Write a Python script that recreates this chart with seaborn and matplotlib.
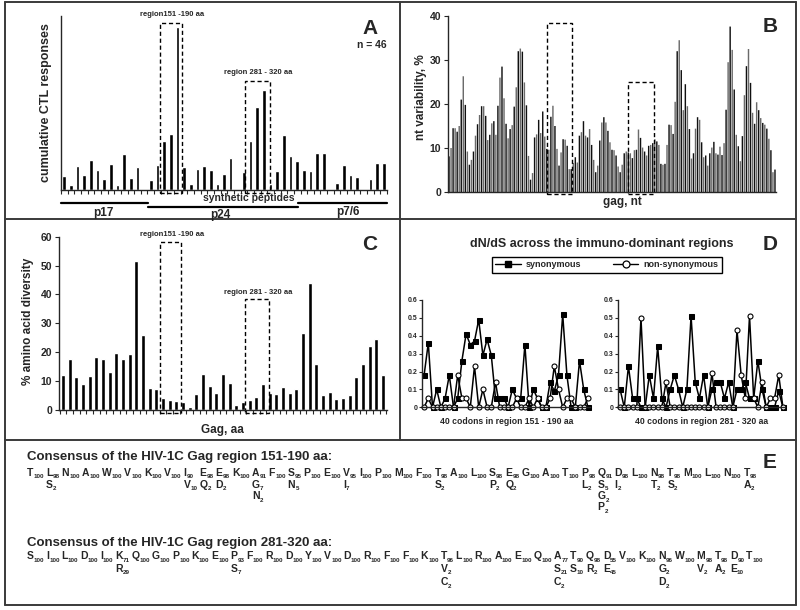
import numpy as np
import seaborn as sns
import matplotlib.pyplot as plt
from matplotlib.patches import Rectangle
from matplotlib.lines import Line2D

W, H = 800, 610

# A: cumulative CTL responses per synthetic peptide (49 peptides)
ctl_responses = [4.2, 1.5, 7.2, 4.4, 9.0, 6.0, 3.2, 7.7, 1.5, 10.7, 3.7, 7.0, 0, 3.0, 7.4,
                 14.8, 16.8, 49.0, 7.0, 1.9, 6.3, 7.3, 6.1, 1.7, 4.8, 9.6, 0, 5.4, 14.7,
                 25.0, 30.2, 1.7, 5.6, 16.4, 10.1, 8.7, 6.0, 5.6, 11.0, 11.2, 0, 2.2, 7.6,
                 4.5, 4.0, 0, 3.3, 8.0, 8.0]

# B: nt variability, %
nt_variability = [8.1, 10, 14.5, 14.5, 13.7, 15, 21, 26.3, 19.8, 9.2, 6.2, 7.3, 9.2, 12.8,
                  15.4, 17.5, 19.5, 19.5, 17.3, 11.8, 13, 15.6, 16.1, 13, 19.6, 26, 28.5,
                  21.3, 15.5, 12.2, 14.3, 15.2, 19.4, 23.8, 32, 32.6, 31.9, 24.9, 19.7, 8.2,
                  2.8, 4.3, 12.4, 13.1, 16.4, 13.4, 18.3, 12.6, 9.8, 9.6, 17.1, 19.6, 15,
                  9.8, 6, 9, 12, 11.9, 10.5, 5.2, 5.2, 6.6, 7.9, 6.7, 12.8, 13.6, 16.1, 12.8,
                  12.4, 14.3, 10.7, 7.3, 4.5, 6,
                  11.7, 15.8, 17, 15.8, 13.9, 11.3, 9.6, 9.5, 8.3, 5.8,
                  4.5, 6.2, 8.8, 9.2, 9, 8.8, 7.7, 9.5, 9.6, 14.2,
                  12.3, 10.1, 9.2, 8.3, 10.5, 10.7, 11.1, 12, 11.5, 10.7,
                  6.4, 6.2, 6.4, 10.7, 15.3, 15.2, 13.2, 20.5, 32, 34.5,
                  27.7, 18.6, 24.5, 19.5, 14.3, 7.6, 8.8, 14.4, 17, 16.4,
                  11.3, 7.9, 8.3, 6, 8.8, 10.1, 11.4, 8.8, 8.5, 10.3,
                  8.4, 11.1, 18.7, 29.5, 37.6, 32.3, 23.3, 13, 10.4, 7,
                  12.7, 22, 28.6, 32.5, 24.8, 18, 15.5, 20.4, 18.6, 16.8,
                  15.7, 15.3, 14.4, 12.1, 9.5, 4.5, 5.1]

# C: % amino acid diversity
aa_diversity = [12, 17.5, 11.5, 9, 11.8, 18.5, 17.8, 13.2, 19.7, 17.5, 19.4, 51.6, 25.8,
                7.5, 7.2, 4.3, 3.4, 3.2, 2.6, 1.2, 5.6, 12.6, 8.4, 5.9, 12.4, 9.4, 1.8,
                2.7, 3.5, 4.5, 8.9, 5.9, 5.4, 8.0, 5.9, 7.2, 26.7, 43.9, 16, 5.1, 6.4,
                3.7, 4.3, 5.1, 11.3, 16, 22.2, 24.6, 12.2]

# D: dN/dS per codon
codons = list(range(1, 41))
syn_151_190 = [0.18, 0.36, 0, 0.1, 0, 0.05, 0.18, 0, 0.05, 0.26, 0.41, 0.35, 0.37, 0.49,
               0.29, 0.38, 0.29, 0.05, 0.05, 0.05, 0, 0.1, 0.05, 0.05, 0.35, 0, 0.1, 0.05,
               0, 0, 0.14, 0.09, 0.18, 0.52, 0.18, 0, 0, 0.26, 0.1, 0]
nonsyn_151_190 = [0, 0.05, 0, 0, 0, 0, 0, 0, 0.18, 0.05, 0.05, 0, 0.23, 0, 0.1, 0, 0,
                  0.14, 0, 0, 0, 0, 0.05, 0, 0, 0.05, 0, 0.05, 0, 0, 0.05, 0.23, 0.1, 0,
                  0.05, 0.05, 0, 0, 0, 0.05]
syn_281_320 = [0.1, 0, 0.23, 0.05, 0.05, 0, 0, 0.18, 0.05, 0.34, 0.05, 0, 0.1, 0.18, 0.1,
               0, 0.1, 0.51, 0.14, 0.05, 0.18, 0, 0.1, 0.14, 0.14, 0.05, 0.14, 0, 0.1,
               0.1, 0.14, 0.05, 0.05, 0.26, 0.1, 0, 0, 0, 0.09, 0]
nonsyn_281_320 = [0, 0, 0, 0, 0, 0.5, 0, 0, 0, 0, 0, 0.14, 0, 0, 0, 0, 0, 0, 0, 0, 0, 0,
                  0.19, 0, 0, 0, 0, 0, 0.43, 0.18, 0.05, 0.51, 0.05, 0, 0.14, 0, 0.05,
                  0.05, 0.18, 0]

# E: consensus sequences with frequencies and variants
cons_151_190 = "TLNAWVKVIEEKAFSPEVIPMFTALSEGATPQDLNTMLNT"
pct_151_190 = [100, 98, 100, 100, 100, 100, 100, 100, 90, 98, 98, 100, 91, 100, 95, 100,
               100, 95, 100, 100, 100, 100, 98, 100, 100, 98, 98, 100, 100, 100, 98, 91,
               98, 100, 98, 98, 100, 100, 100, 98]
var_151_190 = {1: [("S", 2)], 8: [("V", 10)], 9: [("Q", 2)], 10: [("D", 2)],
               12: [("G", 7), ("N", 2)], 14: [("N", 5)], 17: [("I", 7)], 22: [("S", 2)],
               25: [("P", 2)], 26: [("Q", 2)], 30: [("L", 2)],
               31: [("S", 5), ("G", 2), ("P", 2)], 32: [("I", 2)], 34: [("T", 2)],
               35: [("S", 2)], 39: [("A", 2)]}

cons_281_320 = "SILDIKQGPKEPFRDYVDRFFKTLRAEQATQDVKNWMTDT"
pct_281_320 = [100, 100, 100, 100, 100, 71, 100, 100, 100, 100, 100, 93, 100, 100, 100,
               100, 100, 100, 100, 100, 100, 100, 96, 100, 100, 100, 100, 100, 77, 90, 98,
               55, 100, 100, 96, 100, 98, 98, 90, 100]
var_281_320 = {5: [("R", 29)], 11: [("S", 7)], 22: [("V", 2), ("C", 2)],
               28: [("S", 21), ("C", 2)], 29: [("S", 10)], 30: [("R", 2)], 31: [("E", 45)],
               34: [("G", 2), ("D", 2)], 36: [("V", 2)], 37: [("A", 2)], 38: [("E", 10)]}

sns.set_style("ticks")
plt.rcParams["font.family"] = ["Liberation Sans", "DejaVu Sans"]
plt.rcParams["font.weight"] = "bold"
plt.rcParams["axes.linewidth"] = 1.0
plt.rcParams["xtick.major.width"] = 0.8
plt.rcParams["ytick.major.width"] = 0.8

fig = plt.figure(figsize=(8, 6.1), dpi=100)


def px_axes(l, t, r, b):
    return fig.add_axes([l / W, 1 - b / H, (r - l) / W, (b - t) / H])


def ftext(x, y, s, **kw):
    return fig.text(x / W, 1 - y / H, s, **kw)


def fline(x0, y0, x1, y1, **kw):
    fig.add_artist(Line2D([x0 / W, x1 / W], [1 - y0 / H, 1 - y1 / H],
                          transform=fig.transFigure, **kw))


def dashed_box(ax, x0, x1, y0, y1):
    ax.add_patch(Rectangle((x0, y0), x1 - x0, y1 - y0, fill=False, ls=(0, (3, 2)),
                           lw=1.0, ec="black", clip_on=False))


# panel borders
for seg in [(5, 1.5, 796, 1.5), (5, 605, 796, 605), (5, 1.5, 5, 605), (796, 1.5, 796, 605),
            (400, 1.5, 400, 440), (5, 219, 796, 219), (5, 440, 796, 440)]:
    fline(*seg, color="#3a3a3a", lw=1.4)

# ---- A
axA = px_axes(61, 16, 387, 190)
sns.barplot(x=np.arange(len(ctl_responses)), y=ctl_responses, color="black",
            saturation=1, width=0.55, ax=axA)
axA.set_xlim(-0.5, len(ctl_responses) - 0.5)
axA.set_ylim(0, 52.3)
axA.set_xticks(np.arange(-0.5, len(ctl_responses), 1))
axA.set_xticklabels([])
axA.set_yticks([])
axA.tick_params(axis="x", length=3)
axA.set_xlabel("")
axA.set_ylabel("")
sns.despine(ax=axA)
dashed_box(axA, 14.4, 17.7, -1, 50.2)
dashed_box(axA, 27.2, 30.9, -1, 32.8)
ftext(172, 15, "region151 -190 aa", fontsize=5.5, ha="center", va="center")
ftext(258, 73, "region 281 - 320 aa", fontsize=5.5, ha="center", va="center")
ftext(46, 103, "cumulative CTL responses", fontsize=9, rotation=90, ha="center", va="center")
ftext(249, 198, "synthetic peptides", fontsize=7.5, ha="center", va="center")
fline(61, 203, 148, 203, color="black", lw=1.6)
fline(148, 207, 298, 207, color="black", lw=1.6)
fline(298, 203, 387, 203, color="black", lw=1.6)
ftext(103, 213, "p17", fontsize=8.5, ha="center", va="center")
ftext(220, 215, "p24", fontsize=8.5, ha="center", va="center")
ftext(348, 212, "p7/6", fontsize=8.5, ha="center", va="center")
ftext(370, 28, "A", fontsize=15, ha="center", va="center", fontweight="heavy")
ftext(372, 45, "n = 46", fontsize=7.5, ha="center", va="center")

# ---- B
axB = px_axes(448, 16, 776, 192)
idx = np.arange(len(nt_variability))
sns.barplot(x=idx, y=nt_variability, color="black", saturation=1, width=0.7, ax=axB)
for i, bar in enumerate(axB.patches):
    bar.set_facecolor("#101010" if i % 2 == 0 else "#6a6a6a")
    bar.set_linewidth(0)
    bar.set_snap(False)
axB.set_xlim(-0.5, len(nt_variability) - 0.5)
axB.set_ylim(0, 40)
axB.set_xticks([])
axB.set_yticks([0, 10, 20, 30, 40])
axB.tick_params(axis="y", length=3, labelsize=7.5, pad=2)
axB.set_xlabel("")
axB.set_ylabel("")
sns.despine(ax=axB)
dashed_box(axB, 47.9, 60.2, -0.5, 38.3)
dashed_box(axB, 87.9, 100.7, -0.5, 25.1)
ftext(421, 97, "nt variability, %", fontsize=8.5, rotation=90, ha="center", va="center")
ftext(622, 202, "gag, nt", fontsize=8.5, ha="center", va="center")
ftext(770, 27, "B", fontsize=15, ha="center", va="center", fontweight="heavy")

# ---- C
axC = px_axes(59, 236.7, 387, 410)
sns.barplot(x=np.arange(len(aa_diversity)), y=aa_diversity, color="black",
            saturation=1, width=0.6, ax=axC)
axC.set_xlim(-0.6, len(aa_diversity) - 0.4)
axC.set_ylim(0, 60)
axC.set_xticks(np.arange(-0.5, len(aa_diversity), 1))
axC.set_xticklabels([])
axC.set_yticks([0, 10, 20, 30, 40, 50, 60])
axC.tick_params(axis="x", length=3)
axC.tick_params(axis="y", length=3, labelsize=7.5, pad=2)
axC.set_xlabel("")
axC.set_ylabel("")
sns.despine(ax=axC)
dashed_box(axC, 14.5, 17.75, -1.2, 58)
dashed_box(axC, 27.25, 30.9, -1.2, 38.3)
ftext(172, 235, "region151 -190 aa", fontsize=5.5, ha="center", va="center")
ftext(258, 293, "region 281 - 320 aa", fontsize=5.5, ha="center", va="center")
ftext(28, 321, "% amino acid diversity", fontsize=8.5, rotation=90, ha="center", va="center")
ftext(222, 430, "Gag, aa", fontsize=8.5, ha="center", va="center")
ftext(370, 245, "C", fontsize=15, ha="center", va="center", fontweight="heavy")

# ---- D
for (l, r), syn, nonsyn, lab, xc in [((422, 590), syn_151_190, nonsyn_151_190,
                                       "40 codons in region 151 - 190 aa", 507),
                                      ((618, 785), syn_281_320, nonsyn_281_320,
                                       "40 codons in region 281 - 320 aa", 702)]:
    ax = px_axes(l, 300, r, 407.3)
    sns.lineplot(x=codons, y=syn, color="black", lw=1.1, marker="s", markersize=3.6,
                 markeredgecolor="black", clip_on=False, ax=ax)
    sns.lineplot(x=codons, y=nonsyn, color="black", lw=1.1, marker="o", markersize=3.6,
                 markerfacecolor="white", markeredgecolor="black", markeredgewidth=0.8,
                 clip_on=False, ax=ax)
    ax.set_xlim(0.5, 40.5)
    ax.set_ylim(0, 0.6)
    ax.set_xticks([])
    ax.set_yticks([0, 0.1, 0.2, 0.3, 0.4, 0.5, 0.6])
    ax.set_yticklabels(["0", "0.1", "0.2", "0.3", "0.4", "0.5", "0.6"])
    ax.tick_params(axis="y", length=2, labelsize=5, pad=1.5)
    ax.set_xlabel("")
    ax.set_ylabel("")
    sns.despine(ax=ax)
    ftext(xc, 422, lab, fontsize=6.2, ha="center", va="center")

ftext(602, 244, "dN/dS across the immuno-dominant regions", fontsize=9, ha="center", va="center")
ftext(770, 245, "D", fontsize=15, ha="center", va="center", fontweight="heavy")
handles = [Line2D([], [], color="black", lw=1.0, marker="s", markersize=5),
           Line2D([], [], color="black", lw=1.0, marker="o", markersize=5,
                  markerfacecolor="white", markeredgewidth=0.9)]
fig.legend(handles, ["synonymous", "non-synonymous"], loc="center",
           bbox_to_anchor=(607 / W, 1 - 265 / H), ncol=2, fontsize=6.5, frameon=True,
           fancybox=False, edgecolor="black", framealpha=1, handlelength=2.8,
           columnspacing=3.5, borderpad=0.35, handletextpad=0.6)

# ---- E
renderer = fig.canvas.get_renderer()


def draw_consensus(title, y_title, y_base, step, letters, pcts, variants, x_end):
    ftext(27, y_title, title, fontsize=9.5, ha="left", va="center")
    columns = []
    for i, (aa, pct) in enumerate(zip(letters, pcts)):
        entries = [(aa, pct)] + variants.get(i, [])
        pieces = []
        width = 0
        for row, (a, p) in enumerate(entries):
            t1 = ftext(0, 0, a, fontsize=7.5, va="baseline")
            t2 = ftext(0, 0, str(p), fontsize=4.5, va="baseline")
            w1 = t1.get_window_extent(renderer).width
            w2 = t2.get_window_extent(renderer).width
            pieces.append((row, t1, t2, w1))
            width = max(width, w1 + w2)
        columns.append((pieces, width))
    gap = (x_end - 27 - sum(w for _, w in columns)) / (len(columns) - 1)
    x = 27
    for pieces, width in columns:
        for row, t1, t2, w1 in pieces:
            yb = y_base + step * row
            t1.set_position((x / W, 1 - yb / H))
            t2.set_position(((x + w1) / W, 1 - (yb + 2.5) / H))
        x += width + gap


draw_consensus("Consensus of the HIV-1C Gag region 151-190 aa:", 457, 476, 11.5,
               cons_151_190, pct_151_190, var_151_190, 757)
draw_consensus("Consensus of the HIV-1C Gag region 281-320 aa:", 543, 559, 13,
               cons_281_320, pct_281_320, var_281_320, 763)
ftext(770, 462, "E", fontsize=15, ha="center", va="center", fontweight="heavy")

fig.savefig("out.png", dpi=100)
